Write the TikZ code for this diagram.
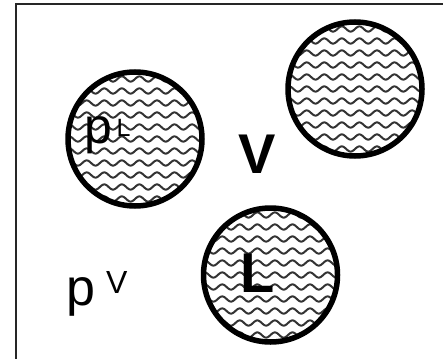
\documentclass[tikz,border=0pt]{standalone}
\usepackage{fontspec}
\setmainfont{Liberation Sans}
\tikzset{
  wave/.style={line width=2pt, black!80},
  drop/.style={circle, draw, line width=5.5pt, minimum size=134pt, inner sep=0pt,
    path picture={
      \begin{scope}[shift={(path picture bounding box.center)}, x=1pt, y=1pt]
        \foreach \k in {-6,...,6}
          \draw[wave] plot[domain=-76:76, samples=160] (\x, {\k*12 + 2.6*sin(\x*20.5)});
      \end{scope}}},
  frame/.style={line width=2pt, black!85},
  lbl/.style={inner sep=0pt, anchor=base west, text=black}
}
\begin{document}
\begin{tikzpicture}[x=1pt, y=-1pt]
  \useasboundingbox (0,0) rectangle (443,358);
  \draw[frame] (16,360) -- (16,4.5) -- (445,4.5);
  \node[drop] (c1) at (135,139) {};
  \node[drop] (c2) at (355,89) {};
  \node[drop] (c3) at (270.5,275) {};
  % labels
  \node[lbl] (pL) at (84.5,143) {\fontsize{50}{50}\selectfont p};
  \node[lbl] (supL) at (116.5,136) {\fontsize{25}{25}\selectfont L};
  \node[lbl] (pV) at (66,305) {\fontsize{52}{52}\selectfont p};
  \node[lbl] (supV) at (106,293) {\fontsize{32}{32}\selectfont V};
  \node[inner sep=0pt, anchor=base] (V) at (257.5,173) {\fontsize{56}{56}\selectfont\bfseries V};
  \node[inner sep=0pt, anchor=base] (L) at (258,292) {\fontsize{56}{56}\selectfont\bfseries L};
\end{tikzpicture}
\end{document}
